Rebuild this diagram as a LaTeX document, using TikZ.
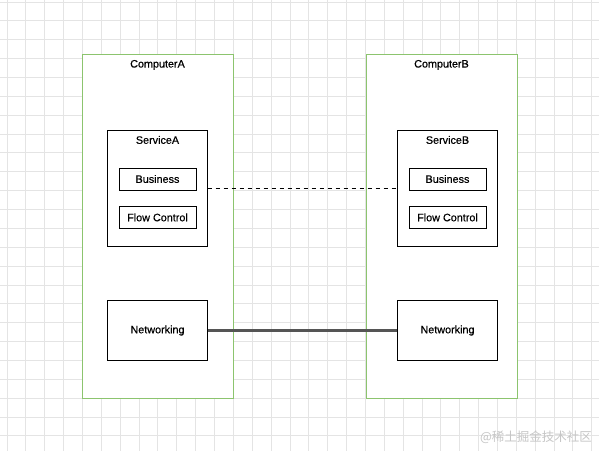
\documentclass[tikz,border=0pt]{standalone}
\usepackage{fontspec}
\setmainfont{Liberation Sans}
\newfontfamily\labelfont{Liberation Sans}[FakeBold=0.5]
\newfontfamily\cjkfont{Noto Sans CJK SC}
\usetikzlibrary{positioning}
\definecolor{gridgray}{HTML}{E4E4E4}
\definecolor{hostgreen}{HTML}{8CC46E}
\definecolor{linkgray}{HTML}{555555}

\begin{document}
\begin{tikzpicture}[x=1pt, y=-1pt,
  every node/.style={font=\labelfont\fontsize{10.8}{13}\selectfont},
  gridline/.style={gridgray, line width=0.8pt},
  host/.style={draw=hostgreen, fill=white, minimum width=151pt, minimum height=344pt, inner sep=0pt},
  service/.style={draw, fill=white, minimum width=100pt, minimum height=116pt, inner sep=0pt},
  part/.style={draw, minimum width=77pt, minimum height=22pt, inner sep=0pt},
  netbox/.style={draw, minimum width=100pt, minimum height=60pt, inner sep=0pt},
  title/.style={anchor=north, inner sep=0pt, yshift=-6pt},
  rpc/.style={dashed, dash pattern=on 4.5pt off 3.5pt, line width=0.9pt},
  wire/.style={linkgray, line width=2.2pt}]
  \fill[white] (0,0) rectangle (599,451);
  \useasboundingbox (0,0) rectangle (599,451);
  % background grid
  \foreach \i in {0,...,31}
    \draw[gridline] ({7+\i*18.86},0) -- ({7+\i*18.86},451);
  \foreach \j in {0,...,23}
    \draw[gridline] (0,{2+\j*18.86}) -- (599,{2+\j*18.86});

  % computer A
  \node[host, label={[title]north:ComputerA}] (ca) at (157.5,226) {};
  \node[service, label={[title]north:ServiceA}] (sa) at (157.5,188) {};
  \node[part] (ba) at (157.5,179) {Business};
  \node[part, below=16pt of ba] (fa) {Flow Control};
  \node[netbox] (na) at (157.5,330.5) {Networking};

  % computer B
  \node[host, label={[title]north:ComputerB}] (cb) at (441.5,226) {};
  \node[service, label={[title]north:ServiceB}] (sb) at (447.5,188) {};
  \node[part] (bb) at (447.5,179) {Business};
  \node[part, below=16pt of bb] (fb) {Flow Control};
  \node[netbox] (nb) at (447.5,330.5) {Networking};

  \draw[rpc] (sa.east) -- (sb.west);
  \draw[wire] (na.east) -- (nb.west);

  \node[font=\cjkfont\fontsize{12.5}{14}\selectfont, text=gray!45] (mark) at (536,437) {@稀土掘金技术社区};
\end{tikzpicture}
\end{document}
